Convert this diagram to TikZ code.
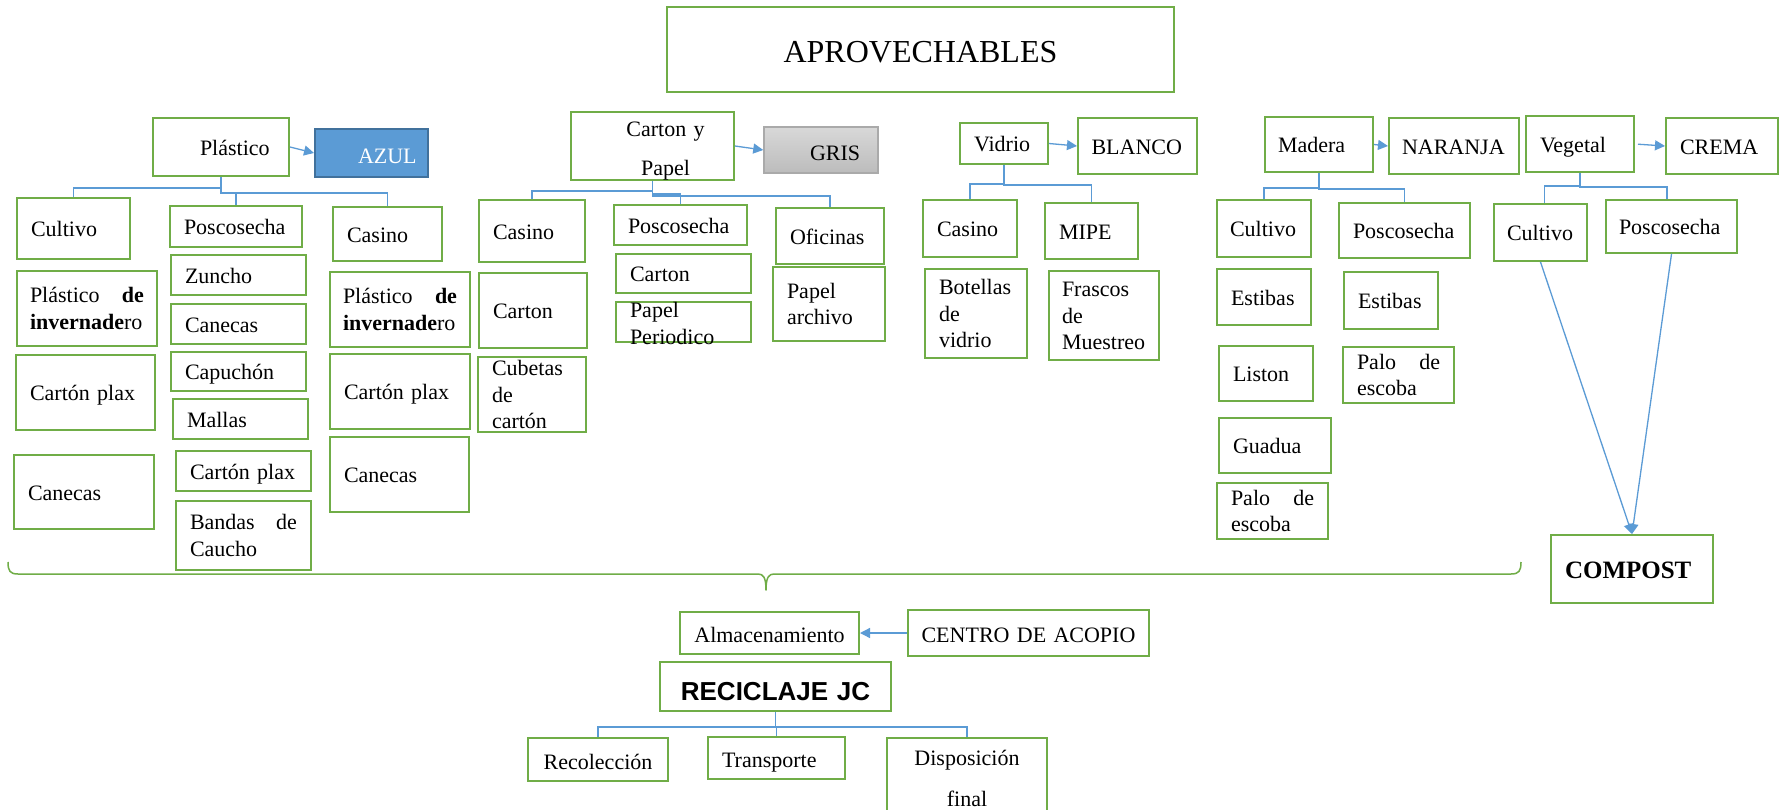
\documentclass[tikz,border=0pt]{standalone}
\usepackage{fontspec}
\setmainfont{Liberation Serif}
\newfontfamily\rjfont{Liberation Sans}
\usetikzlibrary{arrows.meta}
\definecolor{grn}{HTML}{70AD47}
\definecolor{blu}{HTML}{5B9BD5}
\definecolor{bluedge}{HTML}{41719C}
\definecolor{grytop}{RGB}{216,216,216}
\definecolor{grybot}{RGB}{188,188,188}
\definecolor{gryedge}{RGB}{170,170,170}
\newcommand\bxfont{\fontsize{22}{26.5}\selectfont}
\begin{document}
\begin{tikzpicture}[x=1pt,y=-1pt,
  box/.style={draw=grn, line width=2pt, inner xsep=14pt, inner ysep=0pt, align=left, font=\bxfont, text=black},
  one/.style={text height=16.5pt, text depth=0pt},
  low/.style={text height=19pt, text depth=0pt},
  two/.style={text height=15pt, text depth=26.5pt},
  three/.style={text height=15pt, text depth=53pt},
  conn/.style={draw=blu, line width=1.3pt},
  arr/.style={draw=blu, line width=1.3pt, -{Triangle[length=10pt,width=10pt]}},
  bracec/.style={draw=grn, line width=1.5pt, line join=round}
]
\fill[white] (0,0) rectangle (1781,809);
\useasboundingbox (0,0) rectangle (1781,809);

% title
\node[box, align=center, inner xsep=0pt, text width=507pt, minimum height=85pt, font=\fontsize{32}{38}\selectfont, text height=26.4pt, text depth=0pt] (aprov) at (920.5,49.5) {APROVECHABLES};

% Plastico
\node[box,one,text width=108pt,minimum height=58pt] (plas) at (221,147) {\hspace*{33pt}Plástico};
\node[box, fill=blu, draw=bluedge, text=white, inner xsep=0pt, text width=113pt, minimum height=48pt, text height=20.6pt, text depth=0pt] (azul) at (371.5,153) {\hspace*{43pt}AZUL};
\node[box,one,text width=85pt,minimum height=61pt] (pcult) at (73.5,228.5) {Cultivo};
\node[box,two,inner xsep=13pt,text width=114pt,minimum height=75pt] (pinv) at (87,308.5) {Plástico\hfill\textbf{de}\\\textbf{invernade}ro};
\node[box,one,text width=111pt,minimum height=75pt] (pplax) at (85.5,392.5) {Cartón plax};
\node[box,one,text width=112pt,minimum height=74pt] (pcan) at (84,492) {Canecas};
\node[box,one,text width=104pt,minimum height=41pt] (ppos) at (236,226.5) {Poscosecha};
\node[box,one,text width=107pt,minimum height=40pt] (pzun) at (238.5,275) {Zuncho};
\node[box,one,text width=107pt,minimum height=40pt] (pcan2) at (238.5,324) {Canecas};
\node[box,one,text width=107pt,minimum height=39pt] (pcap) at (238.5,371.5) {Capuchón};
\node[box,one,text width=107pt,minimum height=40pt] (pmal) at (240.5,419) {Mallas};
\node[box,one,text width=107pt,minimum height=40pt] (pplax2) at (243.5,471) {Cartón plax};
\node[box,two,text width=107pt,minimum height=69pt] (pband) at (243.5,535.5) {Bandas\hfill de\\Caucho};
\node[box,one,text width=81pt,minimum height=54pt] (pcas) at (387.5,234) {Casino};
\node[box,two,inner xsep=13pt,text width=114pt,minimum height=75pt] (pinv2) at (400,309.5) {Plástico\hfill\textbf{de}\\\textbf{invernade}ro};
\node[box,one,text width=112pt,minimum height=75pt] (pplax3) at (400,391.5) {Cartón plax};
\node[box,one,text width=111pt,minimum height=75pt] (pcan3) at (399.5,474.5) {Canecas};

% Carton y Papel
\node[box, align=center, inner xsep=0pt, text width=163pt, minimum height=68pt, text height=15pt, text depth=35pt] (cp) at (652.5,146) {\hspace*{26pt}Carton y\\[12.5pt]\hspace*{26pt}Papel};
\node[box, top color=grytop, bottom color=grybot, draw=gryedge, line width=1.5pt, inner xsep=0pt, text width=114pt, minimum height=46pt, text height=20pt, text depth=0pt] (gris) at (821,150) {\hspace*{46pt}GRIS};
\node[box,one,text width=78pt,minimum height=62pt] (cpcas) at (532,231) {Casino};
\node[box,one,text width=80pt,minimum height=75pt] (cpcar) at (533,310.5) {Carton};
\node[box,three,text width=80pt,minimum height=75pt] (cpcub) at (532,394.5) {Cubetas\\de\\cartón};
\node[box,one,text width=105pt,minimum height=40pt] (cppos) at (680.5,225) {Poscosecha};
\node[box,one,text width=107pt,minimum height=39pt] (cpcar2) at (683.5,273.5) {Carton};
\node[box,text height=15pt,text depth=24pt,text width=107pt,minimum height=40pt] (cpper) at (683.5,322) {Papel\\Periodico};
\node[box,one,text width=80pt,minimum height=56pt] (cpofi) at (830,236) {Oficinas};
\node[box,two,text width=84pt,minimum height=74pt] (cparc) at (829,304) {Papel\\archivo};

% Vidrio
\node[box,one,text width=60pt,minimum height=41pt] (vid) at (1004,143.5) {Vidrio};
\node[box,one,inner xsep=13.5pt,text width=92pt,minimum height=56pt] (blanco) at (1137.5,146) {BLANCO};
\node[box,one,text width=66pt,minimum height=57pt] (vcas) at (970,228.5) {Casino};
\node[box,one,text width=65pt,minimum height=56pt] (vmipe) at (1091.5,231) {MIPE};
\node[box,three,text width=74pt,minimum height=89pt] (vbot) at (976,313.5) {Botellas\\de\\vidrio};
\node[box,three,inner xsep=13pt,text width=84pt,minimum height=89pt] (vfra) at (1104,315.5) {Frascos\\de\\Muestreo};

% Madera
\node[box,one,inner xsep=13pt,text width=82pt,minimum height=55pt] (mad) at (1319,144.5) {Madera};
\node[box,one,inner xsep=13pt,text width=104pt,minimum height=56pt] (nar) at (1454,146) {NARANJA};
\node[box,one,inner xsep=13pt,text width=68pt,minimum height=57pt] (mcult) at (1264,228.5) {Cultivo};
\node[box,one,text width=66pt,minimum height=56pt] (mest) at (1264,297) {Estibas};
\node[box,one,text width=66pt,minimum height=55pt] (mlis) at (1266,373.5) {Liston};
\node[box,one,text width=84pt,minimum height=55pt] (mgua) at (1275,445.5) {Guadua};
\node[box,two,text width=83pt,minimum height=56pt] (mpalo) at (1272.5,511) {Palo\hfill de\\escoba};
\node[box,one,text width=103pt,minimum height=55pt] (mpos) at (1404.5,230.5) {Poscosecha};
\node[box,one,text width=66pt,minimum height=57pt] (mest2) at (1391,300.5) {Estibas};
\node[box,two,text width=83pt,minimum height=56pt] (mpalo2) at (1398.5,375) {Palo\hfill de\\escoba};

% Vegetal
\node[box,one,text width=80pt,minimum height=56pt] (veg) at (1580,144) {Vegetal};
\node[box,one,text width=84pt,minimum height=56pt] (crema) at (1722,146) {CREMA};
\node[box,one,inner xsep=13pt,text width=67pt,minimum height=57pt] (vcult) at (1540.5,232.5) {Cultivo};
\node[box,one,inner xsep=13pt,text width=105pt,minimum height=53pt] (vpos) at (1671.5,226.5) {Poscosecha};
\node[box,text width=134pt,minimum height=68pt,font=\fontsize{25}{30}\selectfont\bfseries,text height=18.5pt,text depth=0pt] (compost) at (1632,569) {COMPOST};

% collection chain
\node[box,low,align=center,inner xsep=0pt,text width=179pt,minimum height=42pt] (alm) at (769.5,633) {Almacenamiento};
\node[box,low,align=center,inner xsep=0pt,text width=241pt,minimum height=46pt] (centro) at (1028.5,633) {CENTRO DE ACOPIO};
\node[box,align=center,inner xsep=0pt,text width=231pt,minimum height=49pt,font=\rjfont\bfseries\fontsize{26}{30}\selectfont,text height=27pt,text depth=0pt] (recic) at (775.5,686.5) {RECICLAJE JC};
\node[box,low,align=center,inner xsep=0pt,text width=140pt,minimum height=43pt] (recol) at (598,759.5) {Recolección};
\node[box,low,text width=109pt,minimum height=42pt] (trans) at (776.5,758) {Transporte};
\node[box,align=center,inner xsep=0pt,text width=160pt,minimum height=80pt,text height=15pt,text depth=41pt] (disp) at (967,778) {Disposición\\[14.5pt]final};

% colour arrows
\draw[arr] (plas.east) -- (azul.west);
\draw[arr] (cp.east) -- (gris.west);
\draw[arr] (vid.east) -- (blanco.west);
\draw[arr] (mad.east) -- (nar.west);
\draw[arr,shorten <=3pt] (veg.east) -- (crema.west);
\draw[arr] (centro.west) -- (alm.east);
\draw[arr] (vcult.south) -- (compost.north);
\draw[arr] (vpos.south) -- (compost.north);

% tree connectors
\draw[conn] (plas.south) -- ++(0,11) -| (pcult.north);
\draw[conn] (plas.south) -- ++(0,16) -| (pcas.north);
\draw[conn] (plas.south) -- ++(0,16) -| (ppos.north);
\draw[conn] (cp.south) -- ++(0,10) -| (cpcas.north);
\draw[conn] (cp.south) -- ++(0,13) -| (cppos.north);
\draw[conn] (cp.south) -- ++(0,15) -| (cpofi.north);
\draw[conn] (vid.south) -- ++(0,19) -| (vcas.north);
\draw[conn] (vid.south) -- ++(0,20) -| (vmipe.north);
\draw[conn] (mad.south) -- ++(0,15) -| (mcult.north);
\draw[conn] (mad.south) -- ++(0,16) -| (mpos.north);
\draw[conn] (veg.south) -- ++(0,13) -| ([xshift=4pt]vcult.north);
\draw[conn] (veg.south) -- ++(0,14) -| ([xshift=-4.5pt]vpos.north);
\draw[conn] (recic.south) -- ++(0,15) -| (recol.north);
\draw[conn] (recic.south) -- ++(0,15) -| (trans.north);
\draw[conn] (recic.south) -- ++(0,15) -| (disp.north);

% brace gathering the recyclable groups
\draw[bracec] (8,562) .. controls (8,571) and (10,574) .. (18,574) -- (758,574)
  .. controls (763,574) and (766,577) .. (766,590)
  .. controls (766,577) and (769,574) .. (774,574) -- (1511,574)
  .. controls (1519,574) and (1521,571) .. (1521,562);
\end{tikzpicture}
\end{document}
